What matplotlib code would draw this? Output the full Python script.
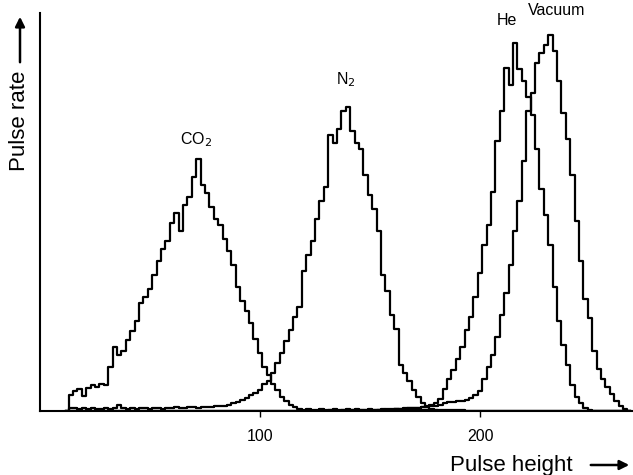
import numpy as np
import matplotlib
matplotlib.use("Agg")
import matplotlib.pyplot as plt

plt.rcParams['font.family'] = ['Liberation Sans', 'DejaVu Sans']

# pulse height channels, 2 wide, 12 .. 268
pulse_height = np.arange(12, 270, 2)

co2 = [0, 16, 20, 22, 15, 23, 26, 24, 27, 26,
       44, 64, 56, 60, 71, 80, 90, 108, 114, 122,
       136, 150, 162, 170, 188, 198, 180, 206, 214, 234,
       252, 226, 218, 204, 192, 186, 172, 160, 146, 124,
       110, 100, 88, 72, 58, 44, 36, 27, 21, 14,
       10, 6, 4, 2, 1, 2, 1, 1, 2, 1,
       1, 2, 1, 1, 2, 1, 2, 1, 1, 2,
       1, 1, 2, 1, 1, 2, 1, 1, 1, 2,
       1, 1, 1, 1, 1, 0.5, 0.5, 0.5, 0.5, 0,
       0, 0, 0, 0, 0, 0, 0, 0, 0, 0,
       0, 0, 0, 0, 0, 0, 0, 0, 0, 0,
       0, 0, 0, 0, 0, 0, 0, 0, 0, 0,
       0, 0, 0, 0, 0, 0, 0, 0, 0]

n2 = [0, 3, 3, 2, 3, 2, 3, 2, 2, 3,
      2, 3, 6, 3, 2, 3, 2, 3, 3, 2,
      3, 3, 2, 3, 3, 4, 3, 3, 4, 4,
      3, 4, 4, 4, 5, 5, 5, 6, 8, 9,
      11, 13, 16, 18, 21, 27, 30, 38, 48, 58,
      70, 81, 94, 104, 140, 156, 170, 192, 210, 224,
      276, 268, 282, 300, 304, 280, 268, 262, 236, 216,
      202, 180, 136, 120, 96, 82, 46, 38, 30, 21,
      14, 8, 4, 2, 1, 1, 1, 1, 1, 1,
      1, 0.5, 0.5, 0.5, 0, 0, 0, 0, 0, 0,
      0, 0, 0, 0, 0, 0, 0, 0, 0, 0,
      0, 0, 0, 0, 0, 0, 0, 0, 0, 0,
      0, 0, 0, 0, 0, 0, 0, 0, 0]

he = [0, 0, 0, 0, 0, 0, 0, 0, 0, 0,
      0, 0, 0, 0, 0, 0, 0, 0, 0, 0,
      0, 0, 0, 0, 0, 0, 0, 0, 0, 0,
      0, 0, 0, 0, 0, 0, 0, 0, 0, 0,
      0, 0, 0, 0, 0, 0, 0, 0, 0, 0,
      0, 0, 0, 0, 0, 0, 0, 0, 0, 0,
      1, 1, 0.5, 1, 1, 1, 1, 1, 1, 1,
      1, 1, 1, 2, 2, 2, 2, 3, 3, 3,
      3, 4, 5, 6, 8, 12, 22, 32, 41, 52,
      64, 81, 94, 114, 138, 166, 186, 219, 270, 300,
      343, 326, 368, 342, 330, 314, 296, 262, 222, 196,
      166, 124, 90, 66, 46, 26, 14, 8, 3, 1,
      0, 0, 0, 0, 0, 0, 0, 0, 0]

vacuum = [0, 0, 0, 0, 0, 0, 0, 0, 0, 0,
          0, 0, 0, 0, 0, 0, 0, 0, 0, 0,
          0, 0, 0, 0, 0, 0, 0, 0, 0, 0,
          0, 0, 0, 0, 0, 0, 0, 0, 0, 0,
          0, 0, 0, 0, 0, 0, 0, 0, 0, 0,
          0, 0, 0, 0, 0, 0, 0, 0, 0, 0,
          0.5, 0.5, 0.5, 0.5, 0.5, 0.5, 0.5, 0.5, 0.5, 0.5,
          0.5, 1, 1, 1, 1, 2, 2, 2, 3, 3,
          3, 4, 4, 5, 5, 6, 8, 9, 9, 10,
          10, 11, 13, 16, 20, 32, 44, 56, 74, 96,
          118, 146, 180, 210, 250, 300, 318, 348, 358, 366,
          376, 360, 330, 298, 272, 236, 190, 150, 112, 93,
          60, 42, 32, 24, 17, 10, 5, 2, 0]

peak_labels = ["CO$_2$", "N$_2$", "He", "Vacuum"]
label_pos = [(71, 262), (139, 322), (212, 383), (235, 393)]

fig = plt.figure(figsize=(6.33, 4.75), dpi=100)
ax = fig.add_axes([40 / 633, 64 / 475, 593 / 633, 398 / 475])

for y in [co2, n2, he, vacuum]:
    ax.step(pulse_height, y, where='mid', color='black', lw=1.6)

for txt, (x, y) in zip(peak_labels, label_pos):
    ax.text(x, y, txt, ha='center', va='bottom', fontsize=11.5)

ax.set_xlim(0, 269.5)
ax.set_ylim(0, 398)
ax.set_xticks([100, 200])
ax.set_yticks([])
ax.tick_params(axis='x', length=4, width=1, pad=9, labelsize=11.5)
for s in ['top', 'right']:
    ax.spines[s].set_visible(False)
for s in ['left', 'bottom']:
    ax.spines[s].set_linewidth(1.5)

fig.text(20 / 633, 354 / 475, "Pulse rate", rotation=90, ha='center', va='center', fontsize=16)
fig.text(511 / 633, 10 / 475, "Pulse height", ha='center', va='center', fontsize=16)
ax.annotate("", xy=(20, 461), xytext=(20, 410), xycoords='figure pixels',
            arrowprops=dict(arrowstyle='-|>', color='black', lw=1.8, mutation_scale=14))
ax.annotate("", xy=(632, 10), xytext=(588, 10), xycoords='figure pixels',
            arrowprops=dict(arrowstyle='-|>', color='black', lw=1.8, mutation_scale=14))

fig.savefig("out.png", dpi=100)
